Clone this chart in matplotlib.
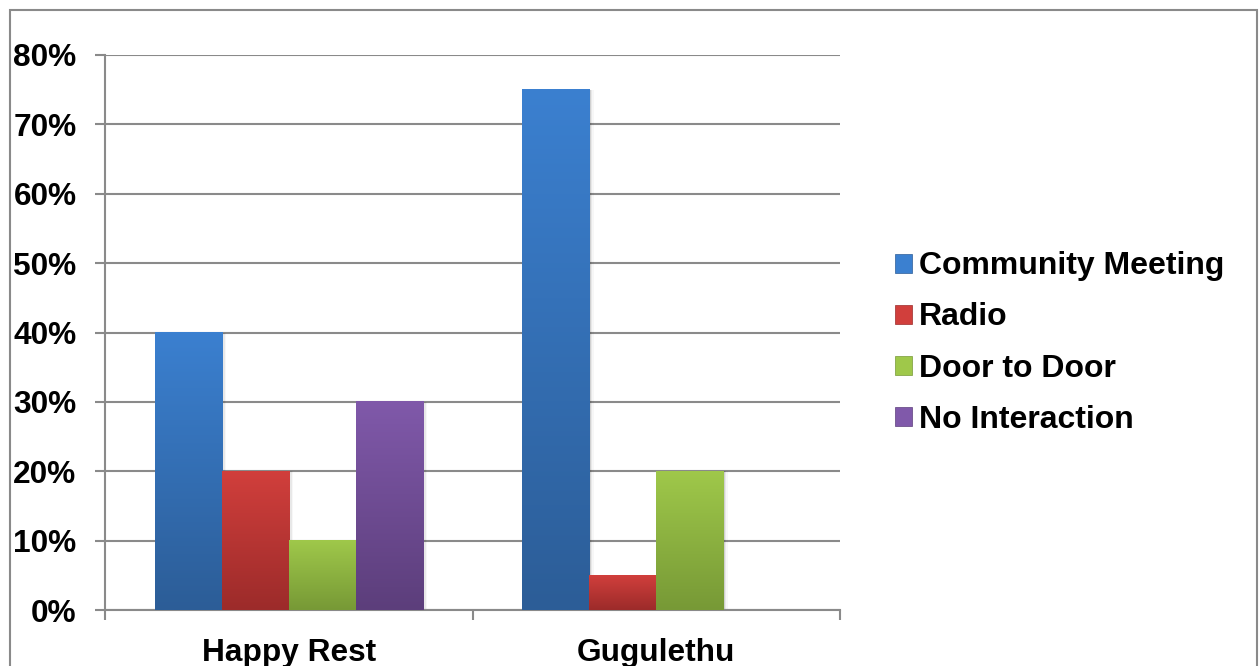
import numpy as np
import matplotlib
matplotlib.use('Agg')
import matplotlib.pyplot as plt
from matplotlib.colors import LinearSegmentedColormap
from matplotlib.patches import Patch, Rectangle

# Survey results: how residents heard about the project
sites = ['Happy Rest', 'Gugulethu']
channels = ['Community Meeting', 'Radio', 'Door to Door', 'No Interaction']
community_meeting = [0.40, 0.75]
radio = [0.20, 0.05]
door_to_door = [0.10, 0.20]
no_interaction = [0.30, 0.0]
yticks = [0.0, 0.1, 0.2, 0.3, 0.4, 0.5, 0.6, 0.7, 0.8]

series = [community_meeting, radio, door_to_door, no_interaction]
# (bottom, top) gradient colours for each series
shades = [('#2c5d97', '#3b80d0'),
          ('#9c2b2a', '#d13f3c'),
          ('#779936', '#9fc84a'),
          ('#5c3e7b', '#8059aa')]

plt.rcParams['font.family'] = ['Liberation Sans', 'DejaVu Sans']
plt.rcParams['font.weight'] = 'bold'

fig = plt.figure(figsize=(12.59, 6.66), dpi=100)
ax = fig.add_axes([105 / 1259, 1 - 610 / 666, 735 / 1259, 555 / 666])

grey = '#8a8a8a'
x = np.arange(len(sites))
w = 0.1826
offsets = (np.arange(len(series)) - 1.5) * w
grad = np.linspace(0, 1, 256).reshape(-1, 1)

for vals, off, (lo, hi) in zip(series, offsets, shades):
    cmap = LinearSegmentedColormap.from_list('g', [lo, hi])
    for xi, v in zip(x, vals):
        if v <= 0:
            continue
        x0 = xi + off - w / 2
        # soft shadow on the right of each bar
        for k, a in enumerate([0.10, 0.06, 0.03]):
            ax.add_patch(Rectangle((x0 + w, 0), 0.004 * (k + 1), v, color='k',
                                   alpha=a, lw=0, zorder=2))
        ax.imshow(grad, extent=[x0, x0 + w, 0, v], origin='lower', cmap=cmap,
                  aspect='auto', zorder=3, interpolation='bilinear')

ax.set_xlim(-0.5, 1.5)
ax.set_ylim(0, 0.8)
ax.set_yticks(yticks)
ax.set_yticklabels(['%d%%' % round(t * 100) for t in yticks])
ax.yaxis.grid(True, color=grey, lw=1.5)
ax.set_axisbelow(True)
ax.set_xticks(x)
ax.set_xticklabels(sites)
ax.set_xticks([-0.5, 0.5, 1.5], minor=True)
ax.tick_params(axis='x', which='major', length=0, pad=20, labelsize=22.8)
ax.tick_params(axis='x', which='minor', length=7.5, width=1.5, color=grey, direction='out')
ax.tick_params(axis='y', length=7.5, width=1.5, color=grey, pad=13, labelsize=22.8)
for s in ['top', 'right']:
    ax.spines[s].set_visible(False)
for s in ['left', 'bottom']:
    ax.spines[s].set_color(grey)
    ax.spines[s].set_linewidth(1.5)

handles = [Patch(facecolor=hi, edgecolor=lo, lw=0.5) for lo, hi in shades]
fig.legend(handles, channels, loc='center left', bbox_to_anchor=(895 / 1259, 1 - 343 / 666),
           frameon=False, fontsize=23, handlelength=0.54, handleheight=0.54,
           handletextpad=0.22, labelspacing=0.66, borderpad=0, borderaxespad=0)

# chart frame
fig.add_artist(Rectangle((9.5 / 1259, -0.1), 1247 / 1259, 1.1 - 9.5 / 666, transform=fig.transFigure,
                         fill=False, edgecolor=grey, lw=1.5))

fig.savefig('out.png', dpi=100)
